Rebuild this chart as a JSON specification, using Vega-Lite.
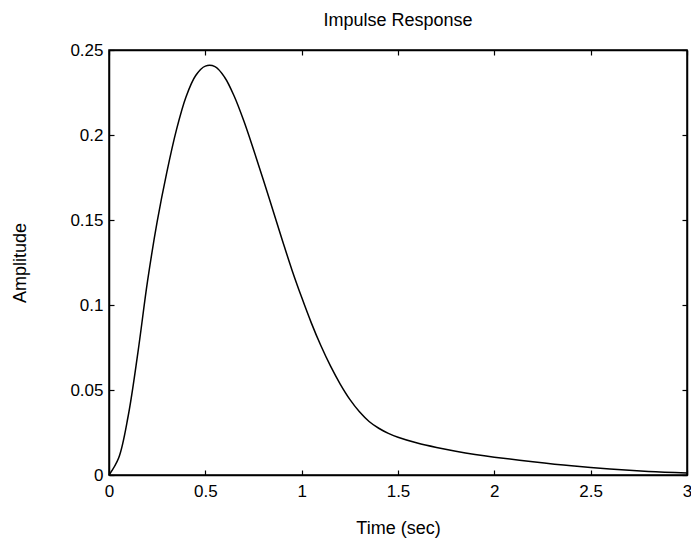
{
  "$schema": "https://vega.github.io/schema/vega-lite/v6.json",
  "autosize": "none",
  "width": 578,
  "height": 425,
  "padding": {"left": 109, "top": 50, "right": 4, "bottom": 66},
  "background": "white",
  "title": {"text": "Impulse Response", "font": "Liberation Sans", "fontSize": 18, "fontWeight": "normal", "color": "black", "offset": 11, "anchor": "middle"},
  "config": {
    "view": {"stroke": "black", "strokeWidth": 1.5},
    "axis": {"grid": false, "domainColor": "black", "tickColor": "black", "labelColor": "black", "titleColor": "black", "labelFont": "Liberation Sans", "titleFont": "Liberation Sans", "labelFontSize": 17, "titleFontSize": 18, "titleFontWeight": "normal", "domainWidth": 1.5, "tickWidth": 1.2}
  },
  "data": {"values": [
    {"t": 0, "a": 0},
    {"t": 0.05, "a": 0.01},
    {"t": 0.1, "a": 0.035},
    {"t": 0.15, "a": 0.072},
    {"t": 0.2, "a": 0.114},
    {"t": 0.25, "a": 0.149},
    {"t": 0.3, "a": 0.178},
    {"t": 0.35, "a": 0.203},
    {"t": 0.4, "a": 0.2225},
    {"t": 0.45, "a": 0.235},
    {"t": 0.5, "a": 0.2405},
    {"t": 0.55, "a": 0.2402},
    {"t": 0.6, "a": 0.234},
    {"t": 0.65, "a": 0.2228},
    {"t": 0.7, "a": 0.2082},
    {"t": 0.75, "a": 0.1915},
    {"t": 0.8, "a": 0.174},
    {"t": 0.85, "a": 0.156},
    {"t": 0.9, "a": 0.138},
    {"t": 0.95, "a": 0.1205},
    {"t": 1.0, "a": 0.1045},
    {"t": 1.05, "a": 0.0895},
    {"t": 1.1, "a": 0.076},
    {"t": 1.15, "a": 0.064},
    {"t": 1.2, "a": 0.0535},
    {"t": 1.25, "a": 0.0445},
    {"t": 1.3, "a": 0.0372},
    {"t": 1.35, "a": 0.0315},
    {"t": 1.4, "a": 0.0275},
    {"t": 1.45, "a": 0.0245},
    {"t": 1.5, "a": 0.0222},
    {"t": 1.6, "a": 0.0188},
    {"t": 1.7, "a": 0.0162},
    {"t": 1.8, "a": 0.014},
    {"t": 1.9, "a": 0.0121},
    {"t": 2.0, "a": 0.0105},
    {"t": 2.2, "a": 0.0078},
    {"t": 2.4, "a": 0.0054},
    {"t": 2.6, "a": 0.0035},
    {"t": 2.8, "a": 0.0021},
    {"t": 3.0, "a": 0.0012}
  ]},
  "layer": [
    {
      "mark": {"type": "line", "color": "black", "strokeWidth": 1.5, "interpolate": "catmull-rom"},
      "encoding": {
        "x": {"field": "t", "type": "quantitative", "scale": {"domain": [0, 3], "nice": false},
          "axis": {"title": "Time (sec)", "values": [0, 0.5, 1, 1.5, 2, 2.5, 3], "labelExpr": "datum.value", "tickSize": -5, "labelPadding": 13, "titlePadding": 20, "labelFlush": false}},
        "y": {"field": "a", "type": "quantitative", "scale": {"domain": [0, 0.25], "nice": false},
          "axis": {"title": "Amplitude", "values": [0, 0.05, 0.1, 0.15, 0.2, 0.25], "labelExpr": "datum.value", "tickSize": -5, "labelPadding": 11, "titlePadding": 40, "labelFlush": false}}
      }
    },
    {
      "mark": {"type": "line", "strokeOpacity": 0},
      "encoding": {
        "x": {"field": "t", "type": "quantitative", "axis": {"orient": "top", "title": null, "labels": false, "values": [0, 0.5, 1, 1.5, 2, 2.5, 3], "tickSize": -5}},
        "y": {"field": "a", "type": "quantitative", "axis": {"orient": "right", "title": null, "labels": false, "values": [0, 0.05, 0.1, 0.15, 0.2, 0.25], "tickSize": -5}}
      }
    }
  ],
  "resolve": {"axis": {"x": "independent", "y": "independent"}}
}
